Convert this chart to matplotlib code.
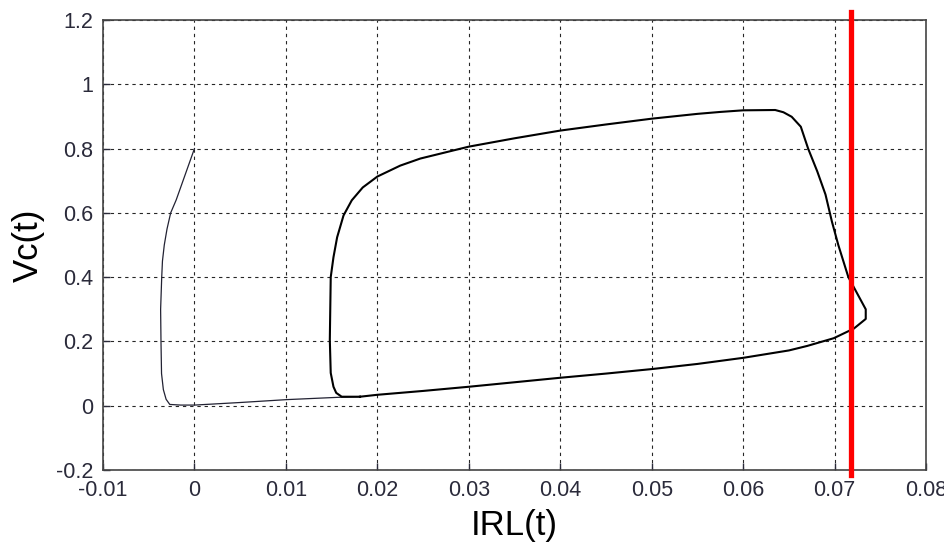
import numpy as np
import matplotlib
matplotlib.use("Agg")
import matplotlib.pyplot as plt

# -----------------------------
# Data
# -----------------------------
# start-up transient, from (0, 0.8) into the limit cycle
start_x = [0.0, -0.0005, -0.0010, -0.0015, -0.0020, -0.0026, -0.0030, -0.0033,
           -0.0035, -0.00358, -0.0037, -0.00366, -0.0036, -0.0034, -0.0031,
           -0.0027, -0.0015, 0.0, 0.005, 0.0101, 0.0156, 0.0181]
start_y = [0.80, 0.76, 0.72, 0.68, 0.64, 0.60, 0.55, 0.50,
           0.45, 0.40, 0.30, 0.20, 0.10, 0.05, 0.02,
           0.004, 0.002, 0.002, 0.010, 0.019, 0.026, 0.028]

# limit cycle
cycle_x = [0.0181, 0.020, 0.025, 0.030, 0.035, 0.040, 0.045, 0.050, 0.055,
           0.060, 0.065, 0.067, 0.0699, 0.0721, 0.0734, 0.0734, 0.0715,
           0.0704, 0.0697, 0.0690, 0.0681, 0.0671, 0.0663, 0.0653, 0.0644,
           0.0635, 0.060, 0.0575, 0.055, 0.050, 0.045, 0.040, 0.035, 0.030,
           0.0247, 0.0225, 0.0200, 0.0184, 0.0172, 0.0163, 0.0156, 0.0152,
           0.0149, 0.0148, 0.0149, 0.0152, 0.0155, 0.0161, 0.0181]
cycle_y = [0.028, 0.034, 0.046, 0.059, 0.073, 0.087, 0.100, 0.114, 0.130,
           0.149, 0.172, 0.186, 0.21, 0.24, 0.27, 0.30, 0.40,
           0.50, 0.573, 0.657, 0.729, 0.80, 0.868, 0.899, 0.913,
           0.920, 0.919, 0.914, 0.908, 0.893, 0.875, 0.856, 0.832, 0.806,
           0.769, 0.747, 0.713, 0.679, 0.639, 0.592, 0.524, 0.462,
           0.40, 0.205, 0.102, 0.059, 0.040, 0.028, 0.028]

marker_x = 0.0718

x_ticks = [-0.01, 0, 0.01, 0.02, 0.03, 0.04, 0.05, 0.06, 0.07, 0.08]
x_tick_labels = ["-0.01", "0", "0.01", "0.02", "0.03", "0.04", "0.05", "0.06", "0.07", "0.08"]
y_ticks = [-0.2, 0, 0.2, 0.4, 0.6, 0.8, 1, 1.2]
y_tick_labels = ["-0.2", "0", "0.2", "0.4", "0.6", "0.8", "1", "1.2"]

# -----------------------------
# Plot
# -----------------------------
plt.rcParams["font.family"] = ["Liberation Sans", "DejaVu Sans"]

fig = plt.figure(figsize=(9.45, 5.45), dpi=100)
ax = fig.add_axes([0.109, 0.1376, 0.871, 0.8257])

ax.plot(start_x, start_y, color="#222233", linewidth=0.9)
ax.plot(cycle_x, cycle_y, color="black", linewidth=1.5)

# red marker line, runs a bit past the axes box
ax.axvline(marker_x, ymin=-0.012, ymax=1.018, color="#ff0000",
           linewidth=3.8, clip_on=False, zorder=5)

ax.set_xlim(-0.01, 0.08)
ax.set_ylim(-0.2, 1.2)
ax.set_xticks(x_ticks)
ax.set_xticklabels(x_tick_labels)
ax.set_yticks(y_ticks)
ax.set_yticklabels(y_tick_labels)

ax.grid(True, color="black", linestyle=(0, (3, 3.5)), linewidth=0.8, alpha=0.85)
ax.tick_params(direction="in", length=5, width=1, labelsize=15.5,
               colors="#2a2a3a", pad=7)
for s in ax.spines.values():
    s.set_color("#444444")
    s.set_linewidth(1.2)

ax.set_xlabel("IRL(t)", fontsize=25, labelpad=6)
ax.set_ylabel("Vc(t)", fontsize=25, labelpad=8)

fig.savefig("out.png", dpi=100)
